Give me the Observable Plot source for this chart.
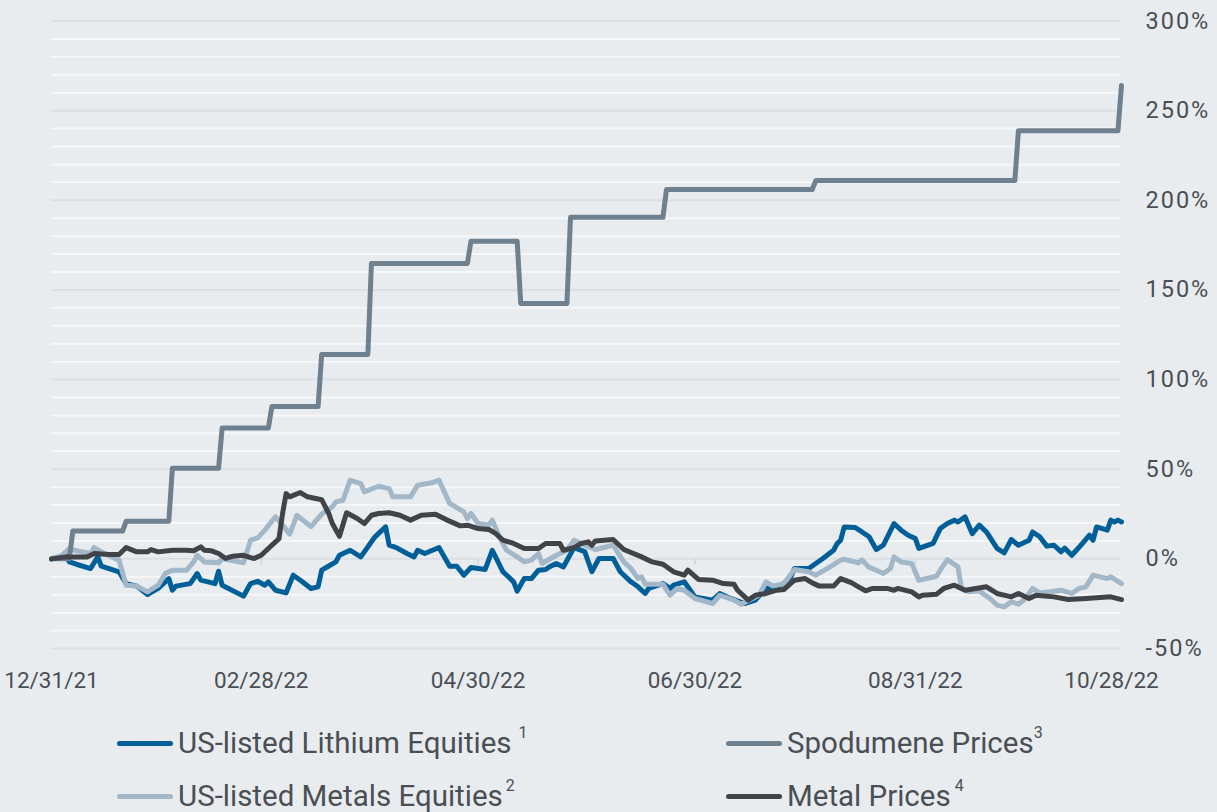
<!DOCTYPE html>
<html>
<head>
<meta charset="utf-8">
<script src="https://cdn.jsdelivr.net/npm/d3@7"></script>
<script src="https://cdn.jsdelivr.net/npm/@observablehq/plot@0.6"></script>
<style>
  html, body { margin: 0; padding: 0; background: #e8ecef; }
  #wrap { position: relative; width: 1217px; height: 812px; background: #e8ecef; font-family: Roboto, "Noto Sans", sans-serif; }
  #chart { position: absolute; left: 0; top: 0; }
  #chart .ylab text { letter-spacing: 2px; }
  .leg { position: absolute; display: flex; align-items: center; font-size: 29.5px; line-height: 30px; color: #4a4f55; white-space: nowrap; }
  .sw { width: 56px; height: 5px; border-radius: 3px; margin-right: 5px; }
  .sup { font-size: 16px; position: relative; top: -10px; }
</style>
</head>
<body>
<div id="wrap">
  <div id="chart"></div>
  <div id="legend"></div>
</div>
<script>
// ---------- data (percent change since 12/31/21) ----------
const seriesNames = ["US-listed Lithium Equities", "US-listed Metals Equities", "Spodumene Prices", "Metal Prices"];
const seriesNotes = ["1", "2", "3", "4"];
const seriesColors = ["#005f99", "#a2b8c9", "#6f808e", "#404347"];

const lithium = [
["2021-12-31",0],["2022-01-04",2],["2022-01-05",-1.7],["2022-01-07",-3],["2022-01-11",-5.4],["2022-01-13",1.1],
["2022-01-14",-4],["2022-01-19",-7.2],["2022-01-21",-13.8],["2022-01-24",-15.2],["2022-01-27",-19.9],["2022-01-30",-16.5],
["2022-02-01",-12.8],["2022-02-02",-11],["2022-02-03",-17.5],["2022-02-04",-15.2],["2022-02-08",-13.8],["2022-02-10",-8.2],
["2022-02-11",-11.9],["2022-02-15",-13.8],["2022-02-16",-6.9],["2022-02-17",-14.7],["2022-02-23",-20.8],["2022-02-25",-13.8],
["2022-02-27",-12.5],["2022-03-01",-14.7],["2022-03-02",-12.8],["2022-03-04",-17.5],["2022-03-07",-19],["2022-03-09",-9.1],
["2022-03-11",-11.9],["2022-03-14",-16.5],["2022-03-16",-15.6],["2022-03-17",-6.3],["2022-03-19",-4],["2022-03-21",-1.7],
["2022-03-22",2],["2022-03-25",4.8],["2022-03-28",1.1],["2022-04-01",12.3],["2022-04-04",17.8],["2022-04-05",7.6],
["2022-04-07",6.3],["2022-04-10",3],["2022-04-12",1.1],["2022-04-13",4.8],["2022-04-15",3],["2022-04-19",6.3],
["2022-04-22",-4.1],["2022-04-24",-4.1],["2022-04-26",-9.1],["2022-04-28",-4.8],["2022-05-02",-5.9],["2022-05-04",4.8],
["2022-05-07",-7.2],["2022-05-10",-12.8],["2022-05-11",-18],["2022-05-13",-11],["2022-05-15",-11],["2022-05-17",-6.3],
["2022-05-19",-5.9],["2022-05-20",-4.5],["2022-05-22",-2.6],["2022-05-24",-4.5],["2022-05-27",6.3],["2022-05-30",4],
["2022-06-01",-7.2],["2022-06-03",0.2],["2022-06-07",0.2],["2022-06-09",-7.2],["2022-06-12",-12.8],["2022-06-14",-15.6],
["2022-06-16",-19.3],["2022-06-17",-16.5],["2022-06-21",-13.8],["2022-06-23",-16.5],["2022-06-24",-14.7],["2022-06-27",-12.8],
["2022-06-30",-21.2],["2022-07-05",-23],["2022-07-07",-19.3],["2022-07-10",-22.1],["2022-07-14",-24.9],["2022-07-17",-23],
["2022-07-20",-16.5],["2022-07-23",-15.6],["2022-07-25",-13.8],["2022-07-27",-10],["2022-07-28",-5.4],["2022-08-01",-5.4],
["2022-08-03",-2.6],["2022-08-05",0.2],["2022-08-08",4.8],["2022-08-09",8.5],["2022-08-10",10.4],["2022-08-11",17.8],
["2022-08-14",17.5],["2022-08-16",15],["2022-08-18",12.3],["2022-08-20",5.2],["2022-08-22",7.6],["2022-08-25",19.7],
["2022-08-27",16],["2022-08-29",13.2],["2022-08-31",11.3],["2022-09-01",5.8],["2022-09-05",8.6],["2022-09-07",16.9],
["2022-09-09",19.7],["2022-09-11",21.6],["2022-09-12",20.6],["2022-09-14",23.4],["2022-09-16",14.1],["2022-09-18",18.8],
["2022-09-20",15],["2022-09-23",5.8],["2022-09-25",3.3],["2022-09-27",10.8],["2022-09-29",7.6],["2022-10-02",10.4],
["2022-10-03",15],["2022-10-05",12.3],["2022-10-07",7.1],["2022-10-09",7.6],["2022-10-11",3.9],["2022-10-12",6],
["2022-10-14",2],["2022-10-16",6.3],["2022-10-19",13.2],["2022-10-20",10.4],["2022-10-21",17.8],["2022-10-24",16],
["2022-10-25",21.6],["2022-10-26",20.6],["2022-10-27",21.6],["2022-10-28",20.6]
];

const metalsEquities = [
["2021-12-31",0],["2022-01-03",2],["2022-01-05",5.8],["2022-01-07",4.5],["2022-01-11",3],["2022-01-12",6.3],
["2022-01-14",3.9],["2022-01-17",1.1],["2022-01-19",-0.7],["2022-01-21",-14.7],["2022-01-24",-15.2],["2022-01-27",-18.4],
["2022-01-30",-14.7],["2022-02-01",-8.2],["2022-02-03",-6.3],["2022-02-07",-6.3],["2022-02-09",-1.7],["2022-02-10",2],
["2022-02-12",-1.7],["2022-02-16",-2.2],["2022-02-17",0.2],["2022-02-23",-2.2],["2022-02-25",10.4],["2022-02-27",11.7],
["2022-03-01",16],["2022-03-04",23.4],["2022-03-06",18.8],["2022-03-08",13.8],["2022-03-10",24.3],["2022-03-14",18],
["2022-03-17",25],["2022-03-20",29],["2022-03-21",31.8],["2022-03-23",32.7],["2022-03-25",43.9],["2022-03-28",42],
["2022-03-29",37.4],["2022-04-02",40.5],["2022-04-05",39.2],["2022-04-06",34.6],["2022-04-11",34.6],["2022-04-13",41.1],
["2022-04-17",42.4],["2022-04-19",43.9],["2022-04-22",30.9],["2022-04-26",26.2],["2022-04-27",22.5],["2022-04-28",25.3],
["2022-04-30",19.7],["2022-05-03",18.8],["2022-05-04",21.6],["2022-05-06",12.3],["2022-05-08",4.8],["2022-05-11",1.1],
["2022-05-13",-1.7],["2022-05-15",-0.7],["2022-05-17",3],["2022-05-18",-2.6],["2022-05-22",2],["2022-05-25",4.8],
["2022-05-27",10.4],["2022-05-30",7.6],["2022-06-02",5.2],["2022-06-07",7.6],["2022-06-10",-1.7],["2022-06-12",-5.4],
["2022-06-14",-11],["2022-06-15",-10],["2022-06-16",-14.1],["2022-06-21",-14.1],["2022-06-23",-20.3],["2022-06-25",-16.5],
["2022-06-27",-17.5],["2022-06-30",-22.1],["2022-07-05",-24.9],["2022-07-07",-20.3],["2022-07-11",-23],["2022-07-13",-25.3],
["2022-07-18",-20.3],["2022-07-20",-12.8],["2022-07-22",-15.2],["2022-07-25",-13.8],["2022-07-28",-5.9],["2022-08-01",-7.2],
["2022-08-03",-9.1],["2022-08-07",-4.5],["2022-08-10",-0.7],["2022-08-11",-0.2],["2022-08-15",-2.2],["2022-08-16",-0.7],
["2022-08-18",-4.8],["2022-08-20",-6.3],["2022-08-22",-8.2],["2022-08-24",-5.4],["2022-08-25",1.1],["2022-08-27",-1.7],
["2022-08-30",-2.6],["2022-09-01",-11.9],["2022-09-06",-9.7],["2022-09-07",-6.3],["2022-09-09",-0.4],["2022-09-12",-4.5],
["2022-09-13",-16.5],["2022-09-15",-18.4],["2022-09-18",-18],["2022-09-21",-22.1],["2022-09-23",-25.8],["2022-09-25",-26.8],
["2022-09-27",-24],["2022-09-29",-25.3],["2022-10-01",-22.1],["2022-10-03",-16.5],["2022-10-05",-19],["2022-10-08",-18.4],
["2022-10-11",-17.5],["2022-10-14",-19.3],["2022-10-16",-16.5],["2022-10-18",-15.6],["2022-10-20",-9.1],["2022-10-24",-11],
["2022-10-25",-10],["2022-10-28",-13.8]
];

const spodumene = [
["2021-12-31",0],["2022-01-05",0],["2022-01-06",15.5],["2022-01-20",15.5],["2022-01-21",21],["2022-02-02",21],
["2022-02-03",50.5],["2022-02-16",50.5],["2022-02-17",73],["2022-03-02",73],["2022-03-03",85],["2022-03-16",85],
["2022-03-17",114],["2022-03-30",114],["2022-03-31",164.8],["2022-04-27",164.8],["2022-04-28",177.2],["2022-05-11",177.2],
["2022-05-12",142.5],["2022-05-25",142.5],["2022-05-26",190.5],["2022-06-21",190.5],["2022-06-22",206],["2022-08-02",206],
["2022-08-03",211],["2022-09-28",211],["2022-09-29",238.8],["2022-10-27",238.8],["2022-10-28",264]
];

const metalPrices = [
["2021-12-31",0],["2022-01-04",1.1],["2022-01-10",1.1],["2022-01-12",3],["2022-01-16",2.4],["2022-01-19",2.4],
["2022-01-21",6.3],["2022-01-24",3.9],["2022-01-27",3.9],["2022-01-28",5.2],["2022-01-30",3.9],["2022-02-03",4.8],
["2022-02-07",4.8],["2022-02-09",4.5],["2022-02-11",6.7],["2022-02-12",4.8],["2022-02-14",4.5],["2022-02-16",3],
["2022-02-18",0.2],["2022-02-20",1.5],["2022-02-23",2],["2022-02-25",0.7],["2022-02-26",0.2],["2022-02-28",2],
["2022-03-02",5.8],["2022-03-05",11.3],["2022-03-06",25.3],["2022-03-07",36.4],["2022-03-08",34.6],["2022-03-11",37],
["2022-03-13",34.6],["2022-03-17",33],["2022-03-19",25.3],["2022-03-20",19.7],["2022-03-22",12.6],["2022-03-24",25.7],
["2022-03-27",22.5],["2022-03-29",19.7],["2022-03-31",24.3],["2022-04-02",25.3],["2022-04-05",25.7],["2022-04-08",24.3],
["2022-04-11",21.6],["2022-04-14",24.3],["2022-04-18",24.9],["2022-04-21",21.9],["2022-04-25",18.4],["2022-04-27",18.8],
["2022-04-30",16.9],["2022-05-03",16.4],["2022-05-05",14.1],["2022-05-07",10.4],["2022-05-10",8.6],["2022-05-13",5.8],
["2022-05-17",5.8],["2022-05-19",8.6],["2022-05-23",8.6],["2022-05-24",4.8],["2022-05-27",6.3],["2022-05-29",8.6],
["2022-05-31",9.5],["2022-06-01",7.6],["2022-06-02",10],["2022-06-07",10.8],["2022-06-10",5.2],["2022-06-15",1.1],
["2022-06-18",-1.7],["2022-06-21",-3],["2022-06-24",-7.2],["2022-06-27",-9.1],["2022-06-28",-6.3],["2022-07-01",-11.5],
["2022-07-05",-11.9],["2022-07-08",-13.8],["2022-07-11",-14.1],["2022-07-12",-17.5],["2022-07-15",-23],["2022-07-17",-20.3],
["2022-07-20",-19.3],["2022-07-23",-17.5],["2022-07-25",-17.1],["2022-07-28",-11.9],["2022-07-31",-11],["2022-08-02",-13.4],
["2022-08-04",-15.2],["2022-08-08",-15.2],["2022-08-10",-11],["2022-08-13",-13.3],["2022-08-15",-15.6],["2022-08-17",-17.8],
["2022-08-19",-16.5],["2022-08-23",-16.5],["2022-08-25",-17.5],["2022-08-26",-16.5],["2022-08-30",-18.4],["2022-09-01",-21.2],
["2022-09-02",-20.3],["2022-09-06",-19.7],["2022-09-08",-16.5],["2022-09-11",-14.7],["2022-09-14",-17.5],["2022-09-20",-15.6],
["2022-09-23",-19.3],["2022-09-27",-21.2],["2022-09-29",-19.3],["2022-10-02",-22.1],["2022-10-04",-20.3],["2022-10-09",-21.2],
["2022-10-13",-22.7],["2022-10-18",-22.1],["2022-10-25",-21.2],["2022-10-28",-22.7]
];

const xTickLabels = ["12/31/21", "02/28/22", "04/30/22", "06/30/22", "08/31/22", "10/28/22"];
const yMajorTicks = [-50, 0, 50, 100, 150, 200, 250, 300];
const yMinorTicks = [-40, -30, -20, -10, 10, 20, 30, 40, 60, 70, 80, 90, 110, 120, 130, 140, 160, 170, 180, 190, 210, 220, 230, 240, 260, 270, 280, 290];

// ---------- build ----------
const parse = d3.utcParse("%Y-%m-%d");
const parseTick = d3.utcParse("%m/%d/%y");
const toRows = (arr, name) => arr.map(([d, v]) => ({date: parse(d), value: v, series: name}));
const rows = {
  lithium: toRows(lithium, seriesNames[0]),
  metalsEq: toRows(metalsEquities, seriesNames[1]),
  spod: toRows(spodumene, seriesNames[2]),
  metalP: toRows(metalPrices, seriesNames[3])
};
const xTicks = xTickLabels.map(label => ({date: parseTick(label), label}));
const xStart = xTicks[0].date, xEnd = xTicks[xTicks.length - 1].date;
const yLabelRows = yMajorTicks.map(v => ({date: xEnd, value: v, label: v + "%"}));
const lineOpts = {x: "date", y: "value", strokeWidth: 5, strokeLinejoin: "round", strokeLinecap: "round"};
const textColor = "#4a4f55";

const chart = Plot.plot({
  width: 1217,
  height: 705,
  marginLeft: 51,
  marginRight: 96,
  marginTop: 20.5,
  marginBottom: 57,
  style: {background: "transparent", fontFamily: "Roboto, 'Noto Sans', sans-serif", color: textColor},
  x: {type: "utc", domain: [xStart, xEnd], axis: null},
  y: {domain: [-50, 300], axis: null},
  marks: [
    Plot.ruleY(yMinorTicks, {stroke: "#f6f7f9", strokeWidth: 2}),
    Plot.ruleY(yMajorTicks, {stroke: "#dcdfe3", strokeWidth: 2}),
    Plot.ruleX(xTicks.slice(1, -1), {x: "date", y1: 0, y2: -3.5, stroke: "#d6d9dd", strokeWidth: 2}),
    // right-hand y labels (left-aligned)
    Plot.text(yLabelRows, {x: "date", y: "value", text: "label", dx: 24, textAnchor: "start", lineAnchor: "middle",
      fontSize: 23.5, fill: textColor, className: "ylab"}),
    // bottom x labels
    Plot.text(xTicks.slice(0, -1), {x: "date", y: () => -50, text: "label", dy: 32, lineAnchor: "middle",
      fontSize: 22.5, fill: textColor}),
    Plot.text(xTicks.slice(-1), {x: "date", y: () => -50, text: "label", dy: 32, dx: -10, lineAnchor: "middle",
      fontSize: 22.5, fill: textColor}),
    Plot.line(rows.lithium, {...lineOpts, stroke: seriesColors[0]}),
    Plot.line(rows.metalsEq, {...lineOpts, stroke: seriesColors[1]}),
    Plot.line(rows.spod, {...lineOpts, stroke: seriesColors[2]}),
    Plot.line(rows.metalP, {...lineOpts, stroke: seriesColors[3]})
  ]
});
document.getElementById("chart").appendChild(chart);

// ---------- legend ----------
const legendPos = [
  {left: 117, top: 728, gap: 7},
  {left: 117, top: 781, gap: 3},
  {left: 726, top: 728, gap: 0},
  {left: 726, top: 781, gap: 4}
];
const legend = document.getElementById("legend");
seriesNames.forEach((name, i) => {
  const item = document.createElement("div");
  item.className = "leg";
  item.style.left = legendPos[i].left + "px";
  item.style.top = legendPos[i].top + "px";
  const sw = document.createElement("div");
  sw.className = "sw";
  sw.style.background = seriesColors[i];
  const txt = document.createElement("span");
  txt.textContent = name;
  const sup = document.createElement("span");
  sup.className = "sup";
  sup.style.marginLeft = legendPos[i].gap + "px";
  sup.textContent = seriesNotes[i];
  item.appendChild(sw);
  item.appendChild(txt);
  item.appendChild(sup);
  legend.appendChild(item);
});
</script>
</body>
</html>
